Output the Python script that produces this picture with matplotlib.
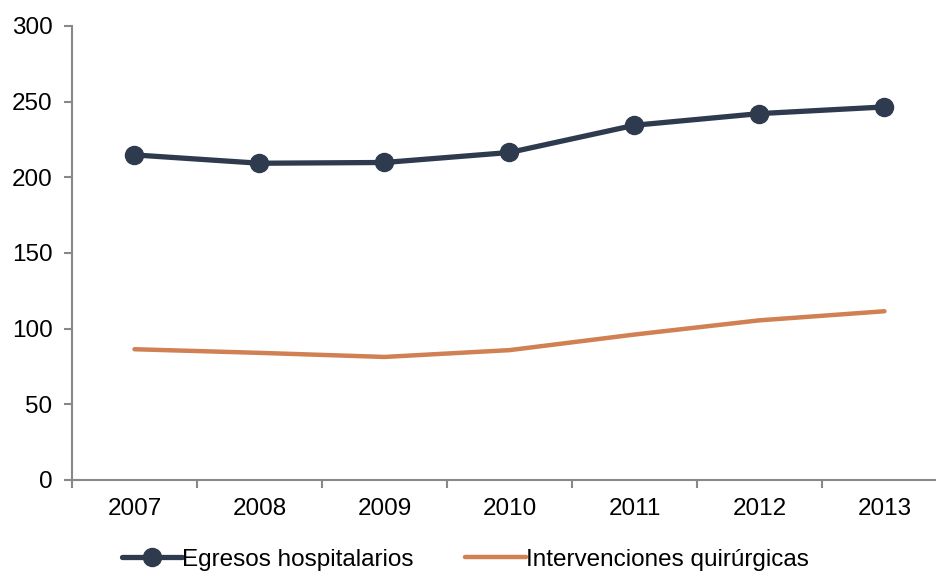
import matplotlib.pyplot as plt
import numpy as np

# Datos por año
anios = ['2007', '2008', '2009', '2010', '2011', '2012', '2013']
egresos = [214.8, 209.3, 209.8, 216.4, 234.4, 242.1, 246.5]
intervenciones = [86.4, 84.0, 81.3, 85.8, 96.1, 105.5, 111.5]

plt.rcParams['font.family'] = ['Liberation Sans', 'DejaVu Sans']

fig = plt.figure(figsize=(9.36, 5.71), dpi=100)
ax = fig.add_axes([0.0769, 0.1594, 0.9348, 0.7951])

x = np.arange(len(anios))
ax.plot(x, egresos, color='#2E3B4E', linewidth=3.8, marker='o', markersize=13,
        label='Egresos hospitalarios', solid_capstyle='round')
ax.plot(x, intervenciones, color='#D08052', linewidth=3.2,
        label='Intervenciones quirúrgicas', solid_capstyle='round')

ax.set_xlim(-0.5, len(anios) - 0.5)
ax.set_ylim(0, 300)
ax.set_yticks(range(0, 301, 50))

# Marcas del eje x entre categorías, etiquetas en el centro
ax.set_xticks(np.arange(-0.5, len(anios), 1.0))
ax.set_xticklabels([])
ax.set_xticks(x, minor=True)
ax.set_xticklabels(anios, minor=True)
ax.tick_params(axis='x', which='minor', length=0, pad=13, labelsize=17.5)
ax.tick_params(axis='x', which='major', length=6, width=1.5, color='#888888')
ax.tick_params(axis='y', length=6, width=1.5, color='#888888', pad=8, labelsize=17.5)

for lado in ['top', 'right']:
    ax.spines[lado].set_visible(False)
for lado in ['left', 'bottom']:
    ax.spines[lado].set_color('#888888')
    ax.spines[lado].set_linewidth(1.5)

fig.legend(loc='center', bbox_to_anchor=(0.497, 0.02), ncol=2, frameon=False,
           fontsize=17.5, handlelength=2.5, handletextpad=0.0, columnspacing=2.1)

plt.savefig('out.png', dpi=100)
